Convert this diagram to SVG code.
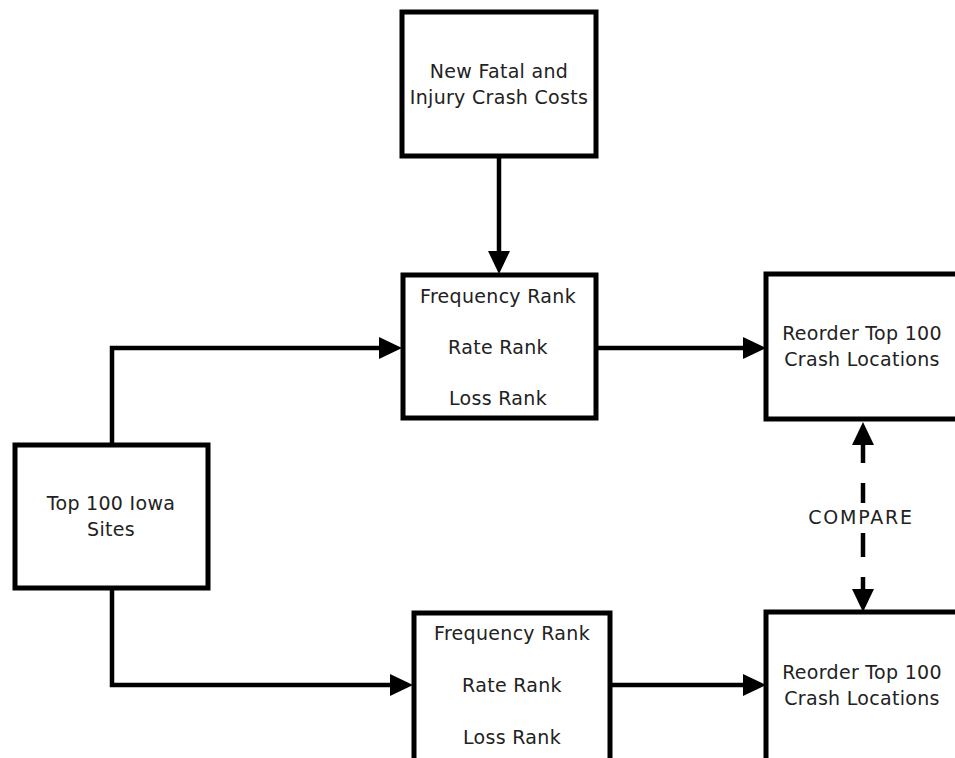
<svg xmlns="http://www.w3.org/2000/svg" width="955" height="758" viewBox="0 0 955 758">
<style>
.box{fill:#fff;stroke:#000;stroke-width:5}
.t{font-family:"DejaVu Sans","Liberation Sans",sans-serif;font-size:19px;letter-spacing:0.3px;fill:#222;text-anchor:middle}
.c{fill:none;stroke:#000;stroke-width:4.5}
</style>
<defs>
<marker id="ah" viewBox="0 0 23 22" refX="0" refY="11" markerWidth="23" markerHeight="22" markerUnits="userSpaceOnUse" orient="auto-start-reverse">
<path d="M0,0 L23,11 L0,22 z" fill="#000"/>
</marker>
</defs>
<rect width="955" height="758" fill="#fff"/>
<g id="connectors">
<path class="c" d="M499,157 V251" marker-end="url(#ah)"/>
<path class="c" d="M598,348 H743" marker-end="url(#ah)"/>
<path class="c" d="M112,443 V348 H379" marker-end="url(#ah)"/>
<path class="c" d="M112,590 V685 H390" marker-end="url(#ah)"/>
<path class="c" d="M612,685 H743" marker-end="url(#ah)"/>
<path class="c" d="M863,445 V463" marker-start="url(#ah)"/>
<path class="c" d="M863,483 V503"/>
<path class="c" d="M863,533 V557"/>
<path class="c" d="M863,577 V589" marker-end="url(#ah)"/>
<text class="t" x="861" y="524" style="letter-spacing:1.8px">COMPARE</text>
</g>
<g id="crash-costs">
<rect class="box" x="402" y="12" width="194" height="144"/>
<text class="t" x="499" y="78">New Fatal and</text>
<text class="t" x="499" y="104">Injury Crash Costs</text>
</g>
<g id="ranks-top">
<rect class="box" x="403" y="275" width="193" height="143"/>
<text class="t" x="498" y="303">Frequency Rank</text>
<text class="t" x="498" y="354">Rate Rank</text>
<text class="t" x="498" y="405">Loss Rank</text>
</g>
<g id="reorder-top">
<rect class="box" x="766" y="274" width="200" height="145"/>
<text class="t" x="862" y="340">Reorder Top 100</text>
<text class="t" x="862" y="366">Crash Locations</text>
</g>
<g id="iowa-sites">
<rect class="box" x="15" y="445" width="193" height="143"/>
<text class="t" x="111" y="510">Top 100 Iowa</text>
<text class="t" x="111" y="536">Sites</text>
</g>
<g id="ranks-bottom">
<rect class="box" x="414" y="613" width="196" height="160"/>
<text class="t" x="512" y="640">Frequency Rank</text>
<text class="t" x="512" y="692">Rate Rank</text>
<text class="t" x="512" y="744">Loss Rank</text>
</g>
<g id="reorder-bottom">
<rect class="box" x="766" y="612" width="200" height="160"/>
<text class="t" x="862" y="679">Reorder Top 100</text>
<text class="t" x="862" y="705">Crash Locations</text>
</g>
</svg>
